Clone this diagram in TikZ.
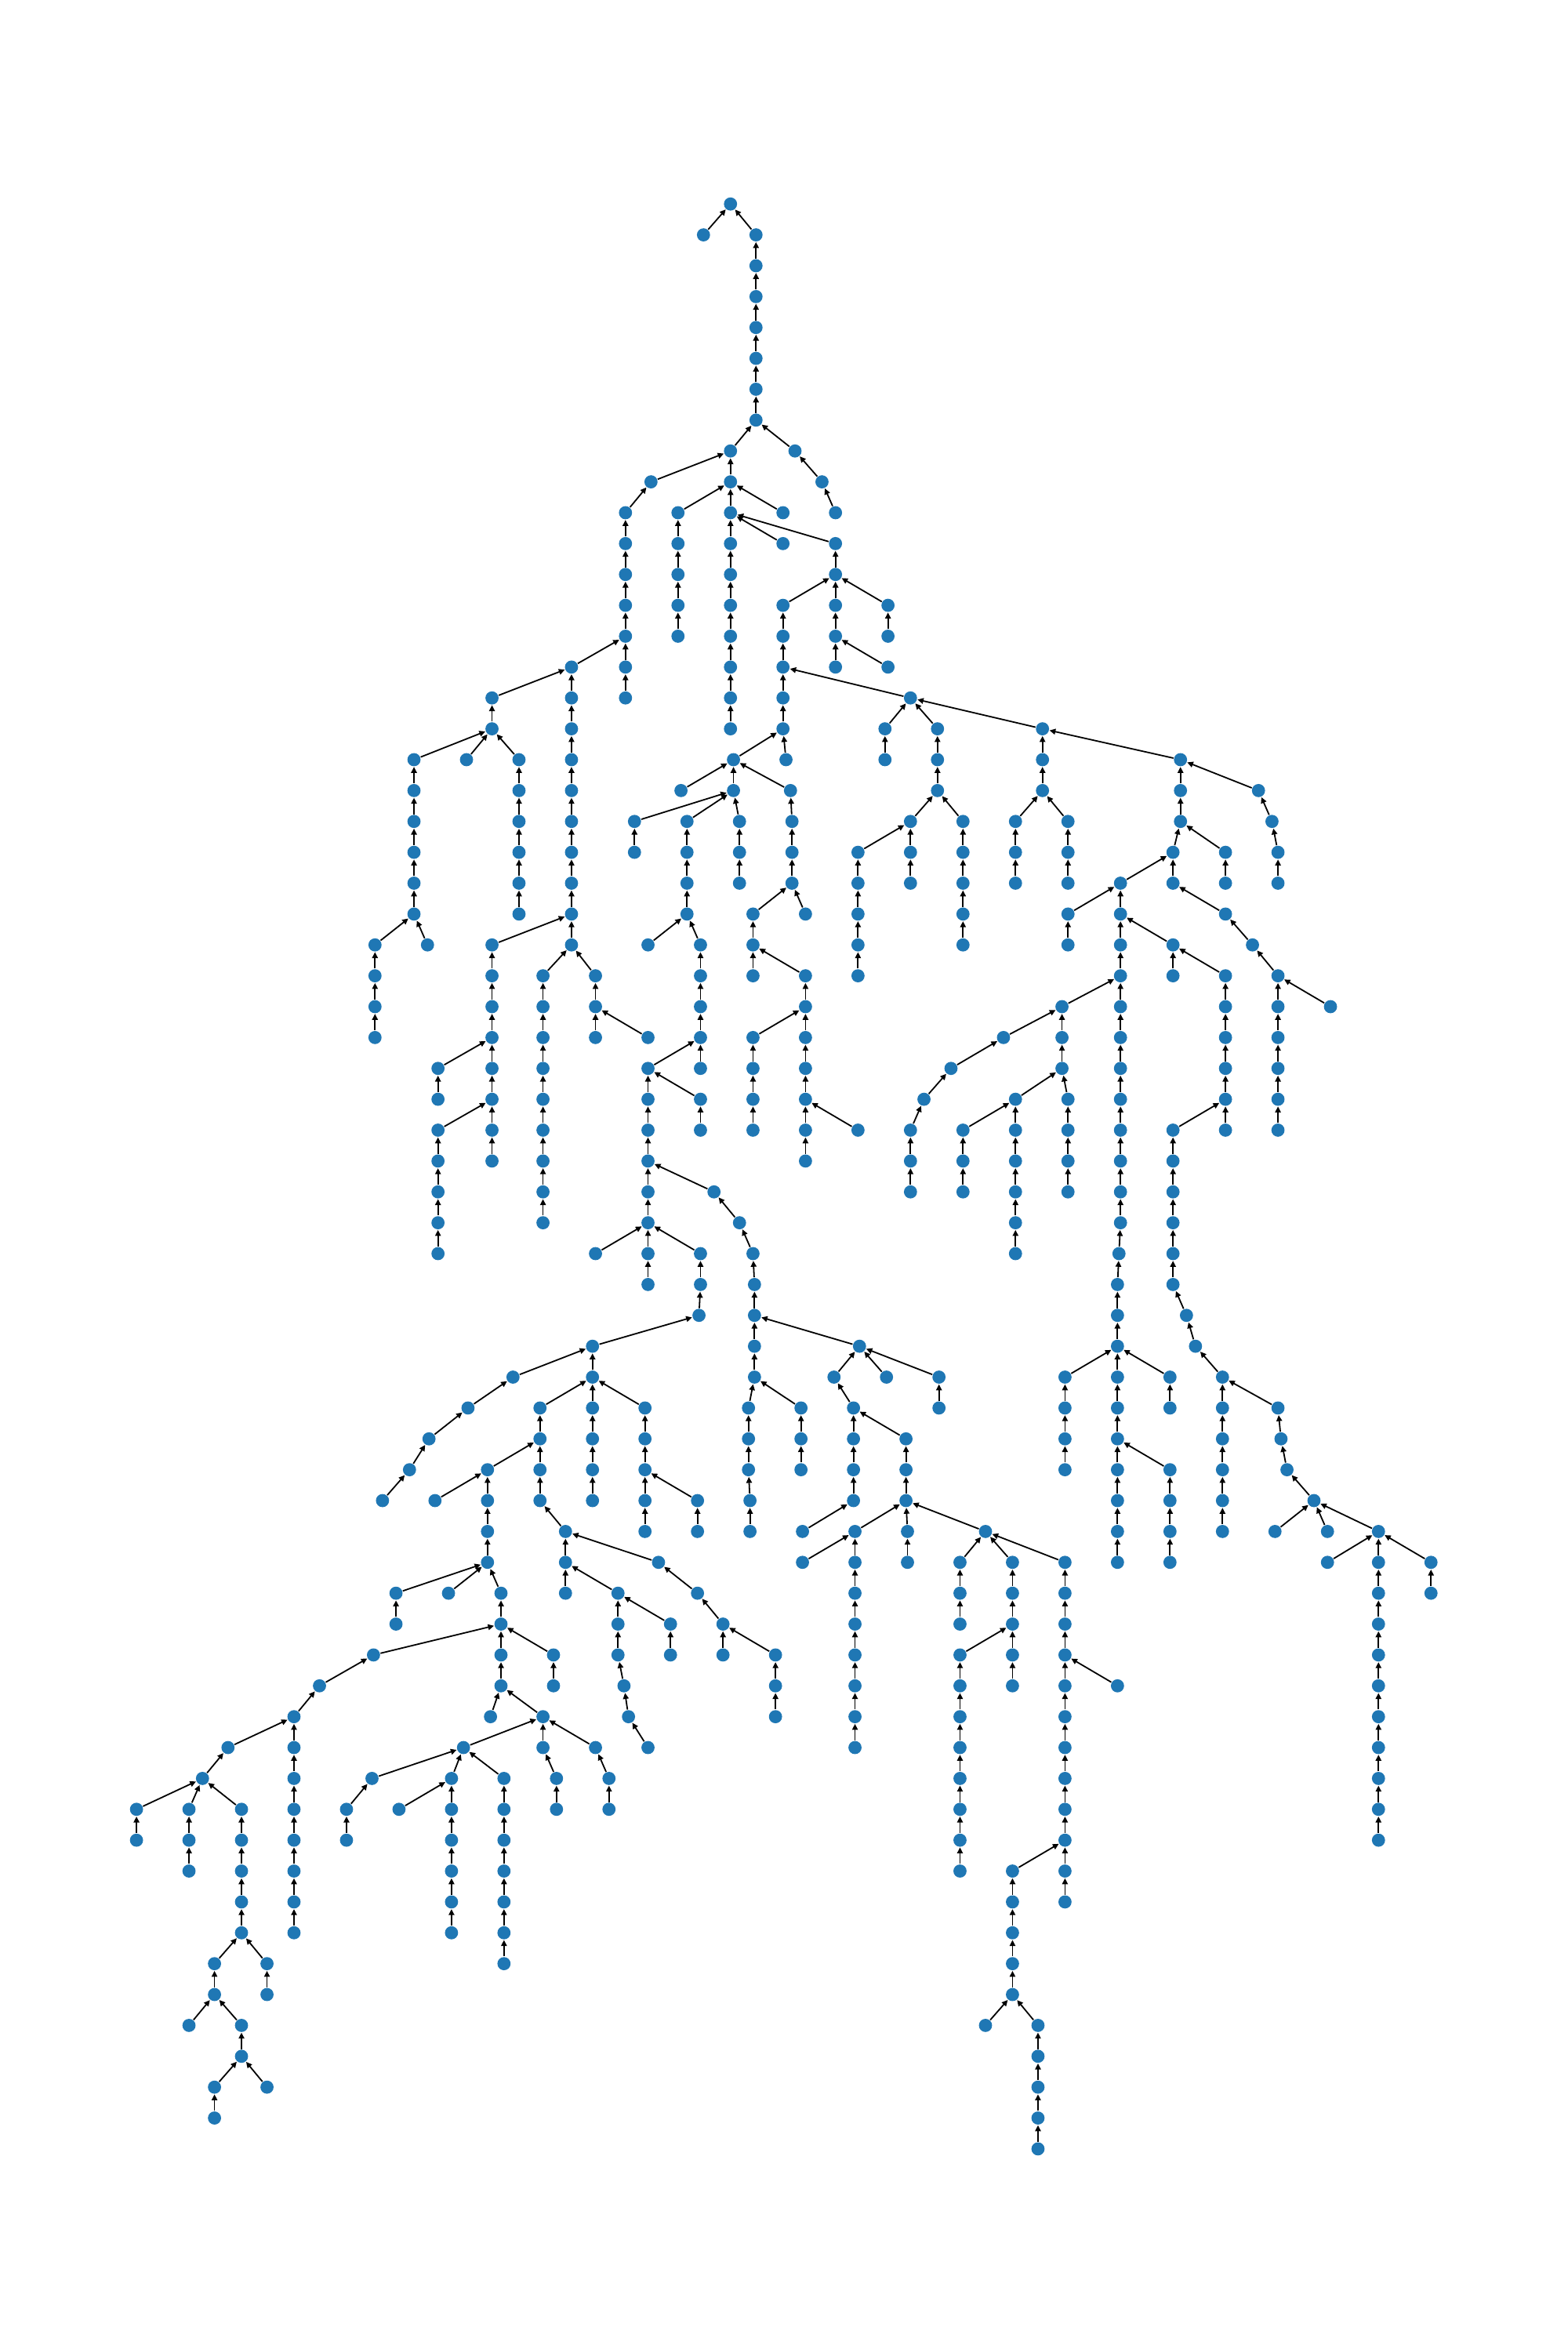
\documentclass[tikz,border=0pt]{standalone}
\usetikzlibrary{arrows.meta}
\definecolor{nodeblue}{HTML}{1F77B4}
\pgfdeclarelayer{background}
\pgfsetlayers{background,main}

% one entry per vertex: x position / depth / x position of its parent one level up
\newcommand\treenodes{%
469/1/487,504/1/487,
504/2/504,
504/3/504,
504/4/504,
504/5/504,
504/6/504,
504/7/504,
487/8/504,530/8/504,
434/9/487,487/9/487,548/9/530,
417/10/434,452/10/487,487/10/487,522/10/487,557/10/548,
417/11/417,452/11/452,487/11/487,522/11/487,557/11/487,
417/12/417,452/12/452,487/12/487,557/12/557,
417/13/417,452/13/452,487/13/487,522/13/557,557/13/557,592/13/557,
417/14/417,452/14/452,487/14/487,522/14/522,557/14/557,592/14/592,
381/15/417,417/15/417,487/15/487,522/15/522,557/15/557,592/15/557,
328/16/381,381/16/381,417/16/417,487/16/487,522/16/522,607/16/522,
328/17/328,381/17/381,487/17/487,522/17/522,590/17/607,625/17/607,695/17/607,
276/18/328,311/18/328,346/18/328,381/18/381,489/18/522,524/18/522,590/18/590,625/18/625,695/18/695,787/18/695,
276/19/276,346/19/346,381/19/381,454/19/489,489/19/489,527/19/489,625/19/625,695/19/695,787/19/787,839/19/787,
276/20/276,346/20/346,381/20/381,423/20/489,458/20/489,493/20/489,528/20/527,607/20/625,642/20/625,677/20/695,712/20/695,787/20/787,848/20/839,
276/21/276,346/21/346,381/21/381,423/21/423,458/21/458,493/21/493,528/21/528,572/21/607,607/21/607,642/21/642,677/21/677,712/21/712,782/21/787,817/21/787,852/21/848,
276/22/276,346/22/346,381/22/381,458/22/458,493/22/493,528/22/528,572/22/572,607/22/607,642/22/642,677/22/677,712/22/712,747/22/782,782/22/782,817/22/817,852/22/852,
276/23/276,346/23/346,381/23/381,458/23/458,502/23/528,537/23/528,572/23/572,642/23/642,712/23/747,747/23/747,817/23/782,
250/24/276,285/24/276,328/24/381,381/24/381,432/24/458,467/24/458,502/24/502,572/24/572,642/24/642,712/24/712,747/24/747,782/24/747,835/24/817,
250/25/250,328/25/328,362/25/381,397/25/381,467/25/467,502/25/502,537/25/502,572/25/572,747/25/747,782/25/782,817/25/782,852/25/835,
250/26/250,328/26/328,362/26/362,397/26/397,467/26/467,537/26/537,708/26/747,747/26/747,817/26/817,852/26/852,887/26/852,
250/27/250,328/27/328,362/27/362,397/27/397,432/27/397,467/27/467,502/27/537,537/27/537,669/27/708,708/27/708,747/27/747,817/27/817,852/27/852,
292/28/328,328/28/328,362/28/362,432/28/467,467/28/467,502/28/502,537/28/537,634/28/669,708/28/708,747/28/747,817/28/817,852/28/852,
292/29/292,328/29/328,362/29/362,432/29/432,467/29/432,502/29/502,537/29/537,616/29/634,677/29/708,712/29/708,747/29/747,817/29/817,852/29/852,
292/30/328,328/30/328,362/30/362,432/30/432,467/30/467,502/30/502,537/30/537,572/30/537,607/30/616,642/30/677,677/30/677,712/30/712,747/30/747,782/30/817,817/30/817,852/30/852,
292/31/292,328/31/328,362/31/362,432/31/432,537/31/537,607/31/607,642/31/642,677/31/677,712/31/712,747/31/747,782/31/782,
292/32/292,362/32/362,432/32/432,476/32/432,607/32/607,642/32/642,677/32/677,712/32/712,747/32/747,782/32/782,
292/33/292,362/33/362,432/33/432,493/33/476,677/33/677,747/33/747,782/33/782,
292/34/292,397/34/432,432/34/432,467/34/432,502/34/493,677/34/677,746/34/747,782/34/782,
432/35/432,467/35/467,503/35/502,745/35/746,782/35/782,
466/36/467,503/36/503,745/36/745,791/36/782,
395/37/466,503/37/503,573/37/503,745/37/745,797/37/791,
342/38/395,395/38/395,503/38/503,556/38/573,591/38/573,626/38/573,710/38/745,745/38/745,780/38/745,815/38/797,
312/39/342,360/39/395,395/39/395,430/39/395,499/39/503,534/39/503,569/39/556,626/39/626,710/39/710,745/39/745,780/39/780,815/39/815,852/39/815,
286/40/312,360/40/360,395/40/395,430/40/430,499/40/499,534/40/534,569/40/569,604/40/569,710/40/710,745/40/745,815/40/815,854/40/852,
273/41/286,325/41/360,360/41/360,395/41/395,430/41/430,499/41/499,534/41/534,569/41/569,604/41/604,710/41/710,745/41/745,780/41/745,815/41/815,858/41/854,
255/42/273,290/42/325,325/42/325,360/42/360,395/42/395,430/42/430,465/42/430,500/42/499,569/42/569,604/42/604,745/42/745,780/42/780,815/42/815,876/42/858,
325/43/325,377/43/360,430/43/430,465/43/465,500/43/500,535/43/569,570/43/604,605/43/604,657/43/604,745/43/745,780/43/780,815/43/815,850/43/876,885/43/876,919/43/876,
325/44/325,377/44/377,439/44/377,535/44/570,570/44/570,605/44/605,640/44/657,675/44/657,710/44/657,745/44/745,780/44/780,885/44/919,919/44/919,954/44/919,
264/45/325,299/45/325,334/45/325,377/45/377,412/45/377,465/45/439,570/45/570,640/45/640,675/45/675,710/45/710,919/45/919,954/45/954,
264/46/264,334/46/334,412/46/412,447/46/412,482/46/465,570/46/570,640/46/640,675/46/675,710/46/710,919/46/919,
249/47/334,334/47/334,369/47/334,412/47/412,447/47/447,482/47/482,517/47/482,570/47/570,640/47/675,675/47/675,710/47/710,919/47/919,
213/48/249,334/48/334,369/48/369,416/48/412,517/48/517,570/48/570,640/48/640,675/48/675,710/48/710,745/48/710,919/48/919,
196/49/213,327/49/334,362/49/334,419/49/416,517/49/517,570/49/570,640/49/640,710/49/710,919/49/919,
152/50/196,196/50/196,309/50/362,362/50/362,397/50/362,432/50/419,570/50/570,640/50/640,710/50/710,919/50/919,
135/51/152,196/51/196,248/51/309,301/51/309,336/51/309,371/51/362,406/51/397,640/51/640,710/51/710,919/51/919,
91/52/135,126/52/135,161/52/135,196/52/196,231/52/248,266/52/301,301/52/301,336/52/336,371/52/371,406/52/406,640/52/640,710/52/710,919/52/919,
91/53/91,126/53/126,161/53/161,196/53/196,231/53/231,301/53/301,336/53/336,640/53/640,710/53/710,919/53/919,
126/54/126,161/54/161,196/54/196,301/54/301,336/54/336,640/54/640,675/54/710,710/54/710,
161/55/161,196/55/196,301/55/301,336/55/336,675/55/675,710/55/710,
161/56/161,196/56/196,301/56/301,336/56/336,675/56/675,
143/57/161,178/57/161,336/57/336,675/57/675,
143/58/143,178/58/178,675/58/675,
126/59/143,161/59/143,657/59/675,692/59/675,
161/60/161,692/60/692,
143/61/161,178/61/161,692/61/692,
143/62/143,692/62/692,
692/63/692}

\begin{document}
\begin{tikzpicture}[
  x=0.4785pt, y=-9.848pt,
  vtx/.style={circle, fill=nodeblue, inner sep=0pt, minimum size=4.2pt},
  uplink/.style={-{Triangle[length=1.9pt,width=1.8pt]}, line width=0.45pt}
]
  \useasboundingbox (0,-6.608) rectangle (1045,69.58);

  % Root
  \node[vtx] (n0-487) at (487,0) {};

  % Vertices
  \foreach \xv/\lv/\pv in \treenodes
    \node[vtx] (n\lv-\xv) at (\xv,\lv) {};

  % Edges, pointing from child up to parent
  \begin{pgfonlayer}{background}
    \foreach \xv/\lv/\pv [evaluate=\lv as \qv using int(\lv-1)] in \treenodes
      \draw[uplink] (n\lv-\xv) -- (n\qv-\pv);
  \end{pgfonlayer}
\end{tikzpicture}
\end{document}
